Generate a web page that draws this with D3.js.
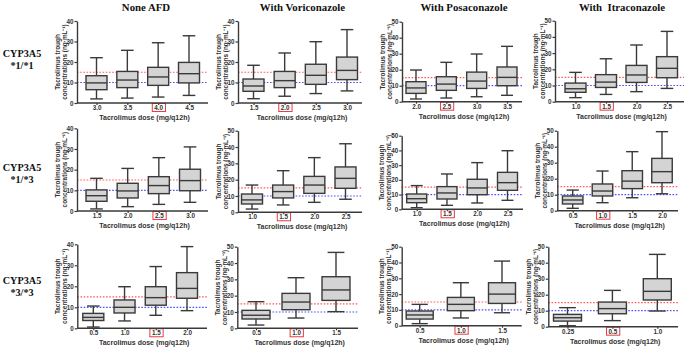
<!DOCTYPE html>
<html><head><meta charset="utf-8">
<script src="https://cdn.jsdelivr.net/npm/d3@7"></script>
<style>body{margin:0;background:#fff}svg{display:block}</style>
</head><body><svg id="c" width="685" height="348"></svg>
<script>
// ---------- DATA ----------
const colTitles = ["None AFD", "With Voriconazole", "With Posaconazole", "With  Itraconazole"];
const geneName = "CYP3A5";
const genotypes = ["*1/*1", "*1/*3", "*3/*3"];
const yAxisTitle = ["Tacrolimus trough", "concentrations (ng\u00b7mL\u207b\u00b9)"];
const xAxisTitle = "Tacrolimus dose (mg/q12h)";
const yMax = [[40, 40, 50, 50], [40, 50, 50, 50], [40, 50, 50, 50]];
const targetLow = 10, targetHigh = 15;

const dosesRow1 = [["3.0","3.5","4.0","4.5"], ["1.5","2.0","2.5","3.0"], ["2.0","2.5","3.0","3.5"], ["1.0","1.5","2.0","2.5"]];
const dosesRow2 = [["1.5","2.0","2.5","3.0"], ["1.0","1.5","2.0","2.5"], ["1.0","1.5","2.0","2.5"], ["0.5","1.0","1.5","2.0"]];
const dosesRow3 = [["0.5","1.0","1.5","2.0"], ["0.5","1.0","1.5"], ["0.5","1.0","1.5"], ["0.25","0.5","1.0"]];
const recommended = [["4.0","2.0","2.5","1.5"], ["2.5","1.5","1.5","1.0"], ["1.5","1.0","1.0","0.5"]];

// each box: [min, q1, median, q3, max]  (ng/mL)
const boxesRow1 = [
  [[2.0,6.5,9.8,13.3,22.1],[2.4,7.5,11.2,15.4,25.7],[2.9,8.6,12.7,17.4,29.4],[3.7,9.8,14.3,19.8,32.8]],
  [[2.1,5.7,8.3,11.7,18.4],[3.3,7.5,10.9,15.4,24.4],[4.6,9.1,13.5,18.9,29.9],[5.9,11.4,15.9,22.4,35.8]],
  [[1.7,5.2,8.6,12.5,19.8],[2.3,7.1,11.0,15.6,24.6],[3.1,8.3,12.9,18.5,29.8],[4.0,10.0,15.2,21.7,34.6]],
  [[2.5,5.8,8.0,11.5,18.1],[4.5,8.8,12.1,16.7,26.5],[6.2,11.9,16.5,22.4,35.0],[8.2,14.8,20.6,27.8,43.4]]
];
const boxesRow2 = [
  [[1.0,4.7,7.4,10.2,15.8],[2.1,6.3,9.7,13.4,20.6],[3.2,8.4,12.3,16.6,25.8],[4.2,9.8,14.7,20.2,31.0]],
  [[2.0,5.1,7.6,11.2,16.7],[4.5,8.8,12.7,16.7,25.5],[6.1,11.6,16.7,22.0,33.5],[8.0,14.7,20.8,27.8,42.0]],
  [[1.1,4.5,7.2,10.4,16.1],[2.7,7.0,11.1,15.4,24.0],[4.3,9.9,14.5,20.4,31.7],[6.1,12.9,18.1,25.1,39.8]],
  [[1.5,4.2,6.7,9.2,12.9],[5.0,9.2,12.3,16.7,24.8],[8.1,13.8,18.5,25.0,36.9],[10.6,17.5,24.4,32.7,49.4]]
];
const boxesRow3 = [
  [[0.6,3.7,5.2,7.1,10.6],[3.5,7.3,10.0,13.5,19.8],[6.2,11.0,14.6,19.8,29.4],[8.4,14.3,19.0,26.5,38.9]],
  [[2.0,5.7,8.0,11.0,16.3],[6.3,11.4,16.1,21.4,31.0],[10.2,17.1,23.5,31.6,46.5]],
  [[1.3,4.2,6.8,9.3,13.5],[4.9,9.5,13.5,17.9,27.2],[8.2,14.1,20.0,27.2,40.9]],
  [[0.6,3.5,5.6,7.7,11.9],[3.8,8.1,11.3,15.4,22.7],[9.8,16.7,22.1,30.0,45.2]]
];
const doses = [dosesRow1, dosesRow2, dosesRow3];
const boxes = [boxesRow1, boxesRow2, boxesRow3];

// ---------- LAYOUT (pixel frames) ----------
const frames = [
  [{x0:77,x1:208,yT:21,y0:103,c0:96.5,c1:189,bw:21},
   {x0:238,x1:362,yT:21,y0:103,c0:253.5,c1:347,bw:21},
   {x0:402,x1:522,yT:21.7,y0:101.7,c0:416,c1:507,bw:20},
   {x0:555,x1:684,yT:20.7,y0:101.7,c0:575.5,c1:667,bw:21}],
  [{x0:77,x1:208,yT:128.3,y0:211,c0:96.5,c1:190,bw:21},
   {x0:238,x1:362,yT:130.7,y0:212.3,c0:252,c1:345.5,bw:21},
   {x0:401.7,x1:523,yT:135.7,y0:209.3,c0:416.7,c1:507.5,bw:20},
   {x0:557.3,x1:678,yT:130.7,y0:210.7,c0:572.7,c1:662,bw:20.5}],
  [{x0:77.3,x1:207,yT:244.3,y0:328.3,c0:93.3,c1:187,bw:21},
   {x0:237.3,x1:358,yT:246.7,y0:328.3,c0:256,c1:336,bw:28},
   {x0:401.7,x1:521.7,yT:246.7,y0:325.7,c0:419.7,c1:502,bw:27},
   {x0:548.3,x1:678,yT:246.7,y0:326.7,c0:567.5,c1:657.3,bw:28}]
];
const titleX = [146, 302.5, 464, 622];
const rowLabelY = [[57, 68.5], [171, 182.5], [284, 295.5]];

const svg = d3.select("#c");
const ink = "#3a3a3a";
const sans = "'Liberation Sans', Arial, sans-serif";
const serif = "'Liberation Serif', 'Times New Roman', serif";

// column titles
colTitles.forEach((t, i) => {
  svg.append("text").attr("x", titleX[i]).attr("y", 10.5)
    .attr("text-anchor", "middle").attr("font-family", serif)
    .attr("font-weight", "bold").attr("font-size", 10.8).attr("fill", "#111")
    .attr("xml:space", "preserve").text(t);
});
// row labels
genotypes.forEach((g, r) => {
  [geneName, g].forEach((t, k) => {
    svg.append("text").attr("x", 22).attr("y", rowLabelY[r][k])
      .attr("text-anchor", "middle").attr("font-family", serif)
      .attr("font-weight", "bold").attr("font-size", 10.2).attr("fill", "#111").text(t);
  });
});

for (let r = 0; r < 3; r++) {
  for (let c = 0; c < 4; c++) {
    const f = frames[r][c];
    const g = svg.append("g");
    const y = d3.scaleLinear().domain([0, yMax[r][c]]).range([f.y0, f.yT]);
    const x = d3.scalePoint().domain(doses[r][c]).range([f.c0, f.c1]);

    // target lines
    [[targetHigh, "#ff5a5a"], [targetLow, "#5050ff"]].forEach(([v, col]) => {
      g.append("line").attr("x1", f.x0).attr("x2", f.x1)
        .attr("y1", y(v)).attr("y2", y(v))
        .attr("stroke", col).attr("stroke-width", 1.2)
        .attr("stroke-dasharray", "1.6,1.6");
    });

    // boxes
    const data = boxes[r][c].map((s, i) => ({dose: doses[r][c][i], s}));
    const bg = g.selectAll("g.box").data(data).join("g").attr("class", "box");
    const capW = f.bw * 0.6;
    bg.append("line").attr("x1", d => x(d.dose)).attr("x2", d => x(d.dose))
      .attr("y1", d => y(d.s[0])).attr("y2", d => y(d.s[4]))
      .attr("stroke", ink).attr("stroke-width", 1.4);
    bg.append("line").attr("x1", d => x(d.dose) - capW / 2).attr("x2", d => x(d.dose) + capW / 2)
      .attr("y1", d => y(d.s[4])).attr("y2", d => y(d.s[4]))
      .attr("stroke", ink).attr("stroke-width", 1.4);
    bg.append("line").attr("x1", d => x(d.dose) - capW / 2).attr("x2", d => x(d.dose) + capW / 2)
      .attr("y1", d => y(d.s[0])).attr("y2", d => y(d.s[0]))
      .attr("stroke", ink).attr("stroke-width", 1.4);
    bg.append("rect").attr("x", d => x(d.dose) - f.bw / 2).attr("width", f.bw)
      .attr("y", d => y(d.s[3])).attr("height", d => y(d.s[1]) - y(d.s[3]))
      .attr("fill", "#d4d4d4").attr("stroke", ink).attr("stroke-width", 1.4);
    bg.append("line").attr("x1", d => x(d.dose) - f.bw / 2).attr("x2", d => x(d.dose) + f.bw / 2)
      .attr("y1", d => y(d.s[2])).attr("y2", d => y(d.s[2]))
      .attr("stroke", ink).attr("stroke-width", 1.4);

    // y axis
    const ya = g.append("g").attr("transform", `translate(${f.x0},0)`)
      .call(d3.axisLeft(y).tickValues(d3.range(0, yMax[r][c] + 1, 10))
        .tickSize(2.5).tickSizeOuter(0).tickPadding(1));
    // x axis
    const xa = g.append("g").attr("transform", `translate(0,${f.y0})`)
      .call(d3.axisBottom(x).tickSize(2).tickSizeOuter(0).tickPadding(0.5));
    xa.select(".domain").remove();
    g.append("line").attr("x1", f.x0).attr("x2", f.x1).attr("y1", f.y0).attr("y2", f.y0)
      .attr("stroke", ink).attr("stroke-width", 1.4);
    [ya, xa].forEach(a => {
      a.selectAll(".domain").attr("stroke", ink).attr("stroke-width", 1.4);
      a.selectAll(".tick line").attr("stroke", ink).attr("stroke-width", 1.2);
      a.selectAll("text").attr("font-family", sans).attr("font-weight", "bold")
        .attr("font-size", 6.3).attr("fill", "#333");
    });

    // highlight recommended dose
    xa.selectAll(".tick").filter(d => d === recommended[r][c]).each(function () {
      const t = d3.select(this).select("text").node();
      const b = t.getBBox();
      d3.select(this).append("rect")
        .attr("x", b.x - 2).attr("y", b.y - 0.5)
        .attr("width", b.width + 4).attr("height", b.height + 1)
        .attr("fill", "none").attr("stroke", "#e8393f").attr("stroke-width", 1);
    });

    // axis titles
    const mid = (f.y0 + f.yT) / 2;
    [[17.5, 0], [10.5, 1]].forEach(([off, k]) => {
      g.append("text").attr("transform", `translate(${f.x0 - off},${mid}) rotate(-90)`)
        .attr("text-anchor", "middle").attr("font-family", sans).attr("font-weight", "bold")
        .attr("font-size", 6.4).attr("fill", "#333").text(yAxisTitle[k]);
    });
    g.append("text").attr("x", (f.x0 + f.x1) / 2 + 2).attr("y", f.y0 + 16.8)
      .attr("text-anchor", "middle").attr("font-family", sans).attr("font-weight", "bold")
      .attr("font-size", 7).attr("fill", "#333").text(xAxisTitle);
  }
}
</script>
</body></html>
